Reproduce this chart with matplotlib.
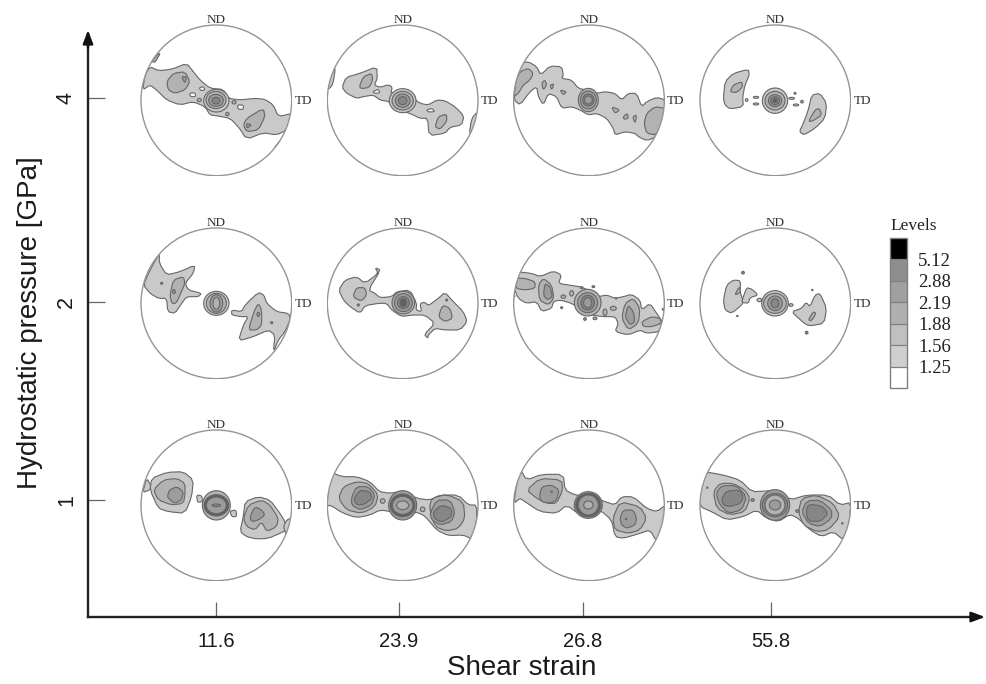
import numpy as np
import matplotlib
matplotlib.use("Agg")
import matplotlib.pyplot as plt
from matplotlib.colors import ListedColormap, BoundaryNorm
from matplotlib.cm import ScalarMappable
from matplotlib.patches import Polygon, Ellipse, Circle

# axis categories
shear_strain = ["11.6", "23.9", "26.8", "55.8"]
pressure = ["4", "2", "1"]

# legend
level_labels = [5.12, 2.88, 2.19, 1.88, 1.56, 1.25]
level_colors = ["#ffffff", "#cfcfcf", "#c0c0c0", "#b0b0b0", "#a0a0a0", "#8e8e8e", "#000000"]
fill_colors = ["#ffffff", "#c9c9c9", "#b2b2b2", "#9c9c9c", "#868686", "#606060", "#000000"]

# Contour outlines, traced coordinates
# each entry: (level, [(x, y), ...]), level 0 is a hole
outlines_4_116 = [
    (1, [(45,195),(60,170),(85,182),(125,178),(170,160),(190,185),(210,210),(240,235),(280,238),(295,265),(330,270),(375,265),(405,268),(430,285),(445,320),(487,310),(470,360),(440,375),(400,368),(350,388),(325,350),(300,325),(265,318),(240,315),(225,290),(190,275),(150,285),(110,270),(80,240),(60,225),(38,240)]),
    (0, [(208,233),(220,230),(225,240),(212,242)]),
    (0, [(178,250),(195,248),(197,260),(182,260)]),
    (0, [(322,285),(340,285),(340,298),(325,298)]),
    (2, [(110,215),(130,190),(165,185),(180,215),(165,240),(135,250),(115,240)]),
    (2, [(350,325),(400,295),(405,320),(385,360),(350,365),(340,345)]),
    (2, [(65,155),(85,130),(90,132),(75,157)]),
    (2, [(432,415),(450,392),(456,390),(440,420)]),
    (3, [(155,200),(170,200),(165,220)]),
    (3, [(350,340),(365,345),(350,355)]),
]
rings_4_116 = [(1,259,272,38,34),(2,258,270,30,26),(3,258,271,22,18),(4,258,272,12,10),(2,208,270,6,5),(2,312,277,6,5),(2,292,312,5,5)]

outlines_4_239 = [
    (1, [(636,232),(648,202),(690,190),(740,170),(742,205),(733,225),(750,232),(775,224),(787,232),(782,250),(800,245),(850,265),(870,280),(895,285),(920,270),(945,272),(975,290),(1002,318),(995,345),(960,352),(945,370),(897,377),(893,325),(870,325),(850,315),(825,305),(790,290),(778,275),(750,270),(730,255),(700,260),(680,265),(650,250)]),
    (0, [(728,245),(745,238),(750,248),(735,250)]),
    (0, [(890,300),(905,295),(915,305),(895,306)]),
    (2, [(688,230),(700,200),(725,190),(728,210),(718,232),(695,236)]),
    (2, [(915,350),(925,320),(950,312),(950,335),(930,358)]),
    (1, [(593,240),(600,200),(612,175),(616,178),(608,225)]),
    (1, [(1018,370),(1025,325),(1043,305),(1042,345),(1030,375)]),
]
rings_4_239 = [(1,818,272,40,36),(2,818,272,32,28),(3,818,272,22,20),(4,818,272,13,12)]

outlines_4_268 = [
    (1, [(42,270),(45,210),(60,160),(85,155),(110,170),(122,195),(150,168),(185,170),(190,195),(185,205),(215,210),(235,235),(260,240),(290,250),(315,245),(345,250),(365,270),(385,250),(410,250),(425,290),(440,275),(470,262),(497,270),(492,330),(470,380),(440,392),(415,380),(405,370),(375,365),(345,375),(340,355),(320,325),(290,310),(265,315),(240,300),(215,290),(185,295),(170,260),(145,250),(130,285),(115,260),(110,230),(90,245),(60,285)]),
    (2, [(42,260),(48,210),(60,185),(85,175),(100,190),(90,210),(70,225),(55,250)]),
    (2, [(432,340),(440,310),(465,290),(495,295),(490,330),(470,375),(440,370)]),
    (2, [(125,220),(135,210),(140,225),(130,240)]),
    (2, [(150,225),(162,222),(155,240)]),
    (2, [(370,320),(382,310),(385,325),(372,328)]),
    (2, [(398,320),(410,315),(405,340)]),
    (2, [(180,240),(200,245),(190,255)]),
    (2, [(335,290),(360,300),(345,310)]),
]
rings_4_268 = [(2,265,270,30,35),(3,265,270,24,27),(4,265,270,17,18),(3,265,270,12,12)]

outlines_4_558 = [
    (1, [(670,265),(675,215),(700,190),(745,178),(748,195),(735,225),(728,260),(730,290),(690,297),(675,285)]),
    (2, [(690,245),(700,225),(725,215),(728,230),(710,248)]),
    (1, [(898,365),(910,340),(925,300),(935,255),(960,250),(980,280),(975,325),(945,355),(912,375)]),
    (2, [(925,335),(945,300),(958,295),(965,315),(940,332)]),
]
rings_4_558 = [(1,825,272,38,38),(2,825,272,30,28),(3,825,272,20,18),(4,825,272,13,12),(5,825,272,6,6),(1,740,270,4,4),(1,768,262,8,3),(1,875,265,8,3),(1,768,282,8,3),(1,888,285,8,3),(2,906,275,4,4),(1,885,250,3,3)]

outlines_2_116 = [
    (1, [(40,210),(60,165),(88,115),(88,145),(110,180),(150,170),(195,150),(190,175),(165,205),(175,225),(215,235),(205,245),(170,245),(155,265),(135,295),(113,290),(110,250),(85,250),(60,235)]),
    (2, [(120,240),(130,195),(160,185),(165,205),(150,240),(138,265),(125,265)]),
    (1, [(325,378),(340,330),(355,305),(335,305),(305,300),(305,285),(335,290),(345,270),(385,232),(402,240),(410,265),(440,290),(475,295),(482,310),(465,350),(445,375),(430,412),(435,360),(415,345),(370,365)]),
    (2, [(355,345),(372,290),(385,265),(395,285),(395,330),(380,345)]),
]
rings_2_116 = [(1,259,265,38,36),(2,259,265,30,30),(3,259,265,19,26),(2,259,265,10,18),(3,95,205,3,3),(3,132,230,4,6),(3,385,298,4,6),(3,425,323,3,3)]

outlines_2_239 = [
    (1, [(626,225),(645,195),(680,185),(705,205),(745,175),(735,158),(752,165),(715,225),(735,235),(750,248),(785,245),(800,230),(840,225),(860,265),(858,285),(875,290),(870,265),(885,262),(895,272),(925,250),(945,232),(970,260),(1000,290),(1012,320),(990,345),(945,345),(915,340),(895,360),(893,370),(883,358),(915,325),(885,300),(845,300),(815,305),(785,285),(770,265),(745,265),(705,272),(690,295),(660,275),(640,255)]),
    (2, [(670,240),(680,218),(705,218),(710,240),(695,258),(675,250)]),
    (2, [(925,305),(938,270),(960,280),(968,310),(945,320)]),
]
rings_2_239 = [(2,820,263,34,34),(3,820,263,27,27),(4,820,263,18,18),(5,820,263,10,12),(3,685,270,3,3),(3,950,255,3,3)]

outlines_2_268 = [
    (1, [(48,170),(95,175),(120,185),(160,168),(185,180),(175,205),(205,210),(240,215),(265,225),(295,245),(320,240),(345,250),(370,245),(395,238),(420,255),(425,285),(450,265),(470,295),(490,325),(478,350),(440,355),(420,345),(385,360),(345,350),(355,325),(345,305),(310,305),(275,300),(245,285),(215,265),(180,255),(160,260),(155,280),(125,290),(110,260),(78,265),(55,250),(42,220)]),
    (2, [(48,190),(75,190),(105,200),(105,220),(75,225),(47,220)]),
    (2, [(118,255),(115,210),(130,190),(155,210),(162,250),(145,270)]),
    (2, [(365,310),(375,265),(400,250),(420,280),(415,325),(385,345)]),
    (2, [(425,320),(455,305),(480,310),(485,325),(455,335),(430,335)]),
    (3, [(130,240),(135,205),(150,215),(158,245),(142,255)]),
    (3, [(375,305),(385,270),(400,290),(405,320),(390,330)]),
]
rings_2_268 = [(2,263,263,40,40),(3,263,263,30,30),(4,263,263,20,22),(3,263,263,12,15),(2,190,245,7,5),(2,215,235,6,8),(3,245,218,4,3),(3,280,215,4,3),(3,42,243,3,3),(3,185,278,3,3),(3,255,312,4,4),(2,285,310,6,4),(2,315,292,6,10),(2,340,280,9,6),(3,348,250,2,2),(3,490,283,3,3)]

outlines_2_558 = [
    (1, [(670,255),(680,210),(700,195),(722,197),(720,230),(730,260),(725,270),(695,295),(675,285)]),
    (1, [(730,245),(740,218),(755,222),(775,240),(750,248),(745,265),(725,262)]),
    (1, [(875,290),(905,280),(918,262),(930,275),(945,240),(960,235),(980,280),(972,325),(935,332),(920,330),(898,312)]),
    (2, [(705,238),(718,215),(722,230),(712,238)]),
    (2, [(925,315),(940,290),(948,295),(935,317)]),
]
rings_2_558 = [(1,825,265,40,38),(2,825,265,34,30),(3,825,265,22,22),(4,825,265,12,14),(4,729,173,4,4),(3,712,303,2,2),(4,920,353,4,4),(3,937,225,2,2),(1,778,255,7,5),(1,873,270,6,4)]

outlines_1_116 = [
    (1, [(60,225),(65,190),(110,172),(160,170),(190,195),(185,245),(165,295),(115,290),(85,280)]),
    (1, [(38,232),(50,190),(62,210),(60,225)]),
    (2, [(70,225),(100,195),(140,190),(165,205),(165,240),(160,265),(125,270),(85,255)]),
    (3, [(112,245),(118,225),(140,215),(160,230),(155,255),(135,265),(120,255)]),
    (1, [(330,350),(340,305),(345,260),(385,245),(420,255),(450,295),(465,320),(470,345),(450,355),(415,370),(380,372),(350,365)]),
    (2, [(340,310),(355,270),(395,255),(420,270),(445,310),(440,335),(410,350),(395,320),(375,345),(350,335)]),
    (3, [(360,305),(375,275),(395,285),(405,300),(385,315),(365,320)]),
    (1, [(460,335),(470,315),(487,308),(480,345),(470,362)]),
    (1, [(200,240),(215,242),(218,260),(202,262)]),
    (1, [(300,288),(318,285),(320,305),(305,305)]),
]
rings_1_116 = [(2,259,271,42,44),(5,259,271,37,32),(3,259,271,30,25),(4,259,271,13,4)]

outlines_1_239 = [
    (1, [(600,170),(635,185),(680,185),(720,200),(748,230),(780,235),(820,228),(860,250),(900,255),(930,240),(985,240),(1015,270),(1040,270),(1040,320),(1025,372),(1000,360),(955,362),(920,345),(895,315),(880,300),(855,290),(820,315),(785,290),(750,285),(720,300),(680,308),(640,295),(600,270),(590,275),(595,225)]),
    (2, [(625,250),(640,215),(680,200),(715,205),(745,240),(735,275),(695,295),(650,285)]),
    (3, [(665,245),(680,215),(715,215),(735,240),(725,270),(690,285),(665,270)]),
    (4, [(672,250),(690,225),(720,230),(727,250),(700,270),(678,268)]),
    (2, [(898,280),(905,250),(950,238),(1000,260),(1005,310),(985,340),(950,348),(915,335)]),
    (3, [(900,295),(920,255),(960,255),(975,290),(965,320),(930,330),(905,315)]),
    (4, [(910,290),(935,270),(965,280),(965,305),(935,322),(912,310)]),
]
rings_1_239 = [(3,818,271,42,44),(5,818,271,37,34),(3,818,271,31,27),(2,818,271,18,13),(2,758,258,7,7),(2,878,283,7,7)]

outlines_1_268 = [
    (1, [(42,265),(50,205),(62,165),(80,195),(125,178),(190,178),(195,225),(225,240),(290,250),(310,258),(345,270),(365,245),(400,245),(440,280),(470,290),(497,270),(490,330),(470,380),(450,345),(420,355),(370,370),(345,365),(335,315),(300,285),(280,305),(240,300),(200,270),(170,295),(120,290),(75,260),(60,250)]),
    (2, [(80,225),(120,190),(185,195),(188,225),(170,265),(140,265),(110,250)]),
    (3, [(118,245),(125,215),(155,210),(178,225),(170,255),(150,265),(125,260)]),
    (2, [(338,310),(360,260),(420,275),(440,310),(420,345),(385,355),(345,345)]),
    (3, [(360,310),(370,285),(400,285),(410,310),(405,330),(380,340),(365,330)]),
]
rings_1_268 = [(2,265,270,42,40),(5,265,270,38,36),(3,265,270,30,30),(2,265,270,14,12),(4,155,230,2,2),(4,378,312,2,2)]

outlines_1_558 = [
    (1, [(613,170),(670,180),(720,195),(755,230),(800,228),(835,225),(870,255),(920,240),(985,240),(1020,270),(1053,262),(1048,325),(1030,375),(1000,350),(965,365),(930,345),(895,310),(870,298),(835,320),(800,310),(770,285),(730,305),(680,315),(635,290),(600,275),(598,235)]),
    (2, [(640,230),(660,205),(700,205),(735,225),(750,250),(735,290),(690,300),(650,280)]),
    (3, [(648,235),(665,212),(710,212),(740,245),(725,285),(685,295),(660,270)]),
    (4, [(665,250),(680,228),(720,225),(730,245),(722,265),(690,275),(670,270)]),
    (2, [(895,290),(905,250),(950,240),(1000,265),(1020,305),(985,345),(950,350),(910,330)]),
    (3, [(905,290),(920,258),(960,255),(995,285),(995,310),(960,335),(925,325)]),
    (4, [(918,290),(925,268),(965,272),(985,295),(960,320),(925,318)]),
]
rings_1_558 = [(3,825,270,44,46),(4,825,270,38,35),(2,825,270,30,30),(3,825,270,17,15),(4,622,218,2,2),(3,758,255,5,4),(3,892,288,5,4),(4,1027,325,2,2)]

# crop origin and trace centre of every pole figure, row by row
panels = [
    (outlines_4_116, rings_4_116, 130, 10, 259, 271), (outlines_4_239, rings_4_239, 130, 10, 818, 271),
    (outlines_4_268, rings_4_268, 500, 10, 267, 271), (outlines_4_558, rings_4_558, 500, 10, 826, 271),
    (outlines_2_116, rings_2_116, 130, 215, 259, 265), (outlines_2_239, rings_2_239, 130, 215, 818, 265),
    (outlines_2_268, rings_2_268, 500, 215, 267, 265), (outlines_2_558, rings_2_558, 500, 215, 826, 265),
    (outlines_1_116, rings_1_116, 130, 415, 259, 271), (outlines_1_239, rings_1_239, 130, 415, 818, 271),
    (outlines_1_268, rings_1_268, 500, 415, 267, 271), (outlines_1_558, rings_1_558, 500, 415, 826, 271),
]

W, H = 986, 684
sans = ["Liberation Sans", "DejaVu Sans"]
serif = ["Liberation Serif", "DejaVu Serif"]
edge = "#666666"


def smooth(pts):
    # one pass of corner cutting, the traced outlines are coarse
    p = np.array(pts, dtype=float)
    q = np.roll(p, -1, axis=0)
    out = np.empty((len(p) * 2, 2))
    out[0::2] = 0.8 * p + 0.2 * q
    out[1::2] = 0.2 * p + 0.8 * q
    return out


fig = plt.figure(figsize=(W / 100, H / 100), dpi=100)

# main axes covers the whole figure, in image pixels
ax = fig.add_axes([0, 0, 1, 1], facecolor="none")
ax.set_xlim(0, W)
ax.set_ylim(H, 0)
for s in ["top", "right"]:
    ax.spines[s].set_visible(False)
ax.spines["left"].set_position(("data", 88))
ax.spines["bottom"].set_position(("data", 617))
ax.spines["left"].set_bounds(617, 40)
ax.spines["bottom"].set_bounds(88, 975)
ax.spines["left"].set_linewidth(1.7)
ax.spines["bottom"].set_linewidth(1.7)
ax.spines["left"].set_color("#222222")
ax.spines["bottom"].set_color("#222222")
ax.set_xticks([216, 399, 583, 771], shear_strain)
ax.set_yticks([98, 302, 500], pressure)
ax.tick_params(axis="x", direction="in", length=11, width=0.9, color="#666666", pad=11, labelsize=14.5)
ax.tick_params(axis="y", direction="in", length=12, width=0.9, color="#666666", pad=8, labelsize=15.5)
for t in ax.get_xticklabels() + ax.get_yticklabels():
    t.set_family(sans)
    t.set_color("#1a1a1a")
for t in ax.get_yticklabels():
    t.set_rotation(90)
    t.set_va("center")
ax.set_xlabel("Shear strain", family=sans, fontsize=20, color="#1a1a1a")
ax.set_ylabel("Hydrostatic pressure [GPa]", family=sans, fontsize=20, color="#1a1a1a")
ax.xaxis.set_label_coords(522 / W, 1 - 668 / H, transform=ax.transAxes)
ax.xaxis.label.set_va("center")
ax.yaxis.set_label_coords(30 / W, 1 - 323 / H, transform=ax.transAxes)
ax.yaxis.label.set_va("center")
ax.annotate("", xy=(985, 617), xytext=(970, 617), arrowprops=dict(arrowstyle="-|>,head_length=0.8,head_width=0.3", color="#111111", lw=1.7, shrinkA=0, shrinkB=0))
ax.annotate("", xy=(88, 30), xytext=(88, 48), arrowprops=dict(arrowstyle="-|>,head_length=0.8,head_width=0.3", color="#111111", lw=1.7, shrinkA=0, shrinkB=0))

# pole figures
for outlines, rings, ox, oy, cx, cy in panels:
    px = ox + cx / 3
    py = oy + cy / 3
    size = 456 / 3
    pa = fig.add_axes([(px - size / 2) / W, 1 - (py + size / 2) / H, size / W, size / H], facecolor="none")
    pa.set_xlim(cx - 228, cx + 228)
    pa.set_ylim(cy + 228, cy - 228)
    pa.axis("off")
    clip = Circle((cx, cy), 226, transform=pa.transData)
    for level, pts in outlines:
        patch = Polygon(smooth(pts), closed=True, facecolor=fill_colors[level], edgecolor=edge, lw=0.8, joinstyle="round")
        pa.add_patch(patch)
        patch.set_clip_path(clip)
    for level, x, y, rx, ry in rings:
        patch = Ellipse((x, y), 2 * rx, 2 * ry, facecolor=fill_colors[level], edgecolor=edge, lw=0.8)
        pa.add_patch(patch)
        patch.set_clip_path(clip)
    pa.add_patch(Circle((cx, cy), 226, fill=False, edgecolor="#949494", lw=1.0))
    pa.text(cx, cy - 241, "ND", family=serif, fontsize=9.5, ha="center", va="center", color="#333333", clip_on=False)
    pa.text(cx + 261, cy + 3, "TD", family=serif, fontsize=9.5, ha="center", va="center", color="#333333", clip_on=False)

# levels legend
cax = fig.add_axes([890 / W, 1 - 388 / H, 17 / W, 150 / H])
bounds = [0] + level_labels[::-1] + [6.5]
norm = BoundaryNorm(bounds, len(level_colors))
cb = fig.colorbar(ScalarMappable(norm=norm, cmap=ListedColormap(level_colors)), cax=cax, spacing="uniform", ticks=level_labels, drawedges=True)
cb.ax.set_yticklabels(["%.2f" % v for v in level_labels], family=serif, fontsize=13.5, color="#222222")
cb.ax.tick_params(which="both", length=0, pad=8)
cb.outline.set_edgecolor("#808080")
cb.outline.set_linewidth(1.0)
cb.dividers.set_color("#808080")
cb.dividers.set_linewidth(0.9)
cax.set_title("Levels", family=serif, fontsize=12.5, loc="left", pad=6, color="#222222")

fig.savefig("out.png", dpi=100)
